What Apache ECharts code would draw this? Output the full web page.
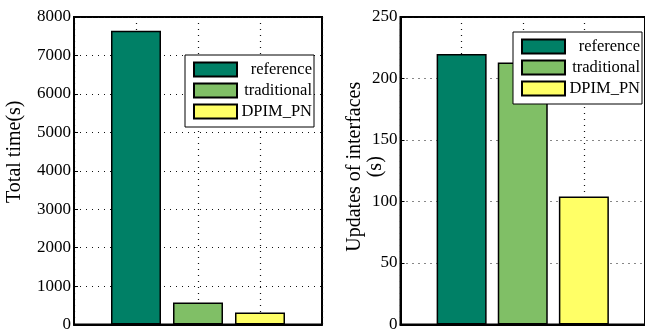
<!DOCTYPE html>
<html>
<head>
<meta charset="utf-8">
<script src="https://cdn.jsdelivr.net/npm/echarts@6/dist/echarts.min.js"></script>
<style>
html,body{margin:0;padding:0;background:#fff;}
#chart{width:645px;height:333px;}
</style>
</head>
<body>
<div id="chart"></div>
<script>
// ---- data ----
const categories = ['reference', 'traditional', 'DPIM_PN'];
const categoryPositions = [1, 2, 3];
const totalTime = [7640, 575, 315];
const updatesOfInterfaces = [220, 213, 104];
const timeTicks = [0, 1000, 2000, 3000, 4000, 5000, 6000, 7000, 8000];
const updateTicks = [0, 50, 100, 150, 200, 250];
const colors = ['#008066', '#80BF66', '#FFFF66'];

const FONT = "'Liberation Serif', 'Times New Roman', serif";
const dotted = { color: '#111', width: 1.2, type: [1, 5] };

function xAxisDef(gridIndex) {
  return {
    type: 'value', gridIndex: gridIndex, min: 0, max: 4, interval: 1,
    axisLine: { show: true, lineStyle: { color: '#000', width: 2 } },
    axisTick: { show: false },
    axisLabel: { show: false },
    splitLine: { show: true, lineStyle: dotted }
  };
}
function yAxisDef(gridIndex, ticks, name, nameGap, pad) {
  return {
    type: 'value', gridIndex: gridIndex,
    min: ticks[0], max: ticks[ticks.length - 1], interval: ticks[1] - ticks[0],
    name: name, nameLocation: 'middle', nameRotate: 90, nameGap: nameGap,
    nameMoveOverlap: false,
    nameTextStyle: { fontFamily: FONT, fontSize: 20, color: '#000', lineHeight: 21, padding: pad },
    axisLine: { show: true, lineStyle: { color: '#000', width: 2 } },
    axisTick: { show: true, inside: true, length: 4, lineStyle: { color: '#000', width: 1 } },
    axisLabel: { show: true, margin: 3, fontFamily: FONT, fontSize: 17, color: '#000',
      formatter: function (v) { return String(v); } },
    splitLine: { show: true, lineStyle: dotted }
  };
}
function legendDef(left, top) {
  return {
    show: true, orient: 'vertical', left: left, top: top,
    data: categories,
    icon: 'rect', itemWidth: 43, itemHeight: 14, itemGap: 4,
    padding: [6, 2, 7, 8],
    backgroundColor: '#fff', borderColor: '#000', borderWidth: 1, borderRadius: 0,
    formatter: '{t|{name}}',
    textStyle: {
      fontFamily: FONT, fontSize: 16.5, color: '#000',
      rich: { t: { width: 70, align: 'right', fontFamily: FONT, fontSize: 16.5, color: '#000' } }
    },
    selectedMode: false
  };
}

const series = [];
[totalTime, updatesOfInterfaces].forEach(function (vals, g) {
  categories.forEach(function (c, i) {
    series.push({
      type: 'bar', name: c, xAxisIndex: g, yAxisIndex: g,
      data: [[categoryPositions[i], vals[i]]],
      barWidth: 50, barGap: '-100%',
      itemStyle: { color: colors[i], borderColor: '#000', borderWidth: 1.5 },
      emphasis: { disabled: true }
    });
  });
});

const chart = echarts.init(document.getElementById('chart'), null, { renderer: 'canvas' });
chart.setOption({
  animation: false,
  backgroundColor: '#fff',
  grid: [
    { left: 74, top: 17, width: 248, height: 308.5, show: true, borderColor: '#000', borderWidth: 2, backgroundColor: 'transparent' },
    { left: 400.5, top: 17, width: 248, height: 308.5, show: true, borderColor: '#000', borderWidth: 2, backgroundColor: 'transparent' }
  ],
  xAxis: [xAxisDef(0), xAxisDef(1)],
  yAxis: [
    yAxisDef(0, timeTicks, 'Total time(s)', 49, [0, 0, 0, 38]),
    yAxisDef(1, updateTicks, 'Updates of interfaces\n(s)', 14, [0, 0, 0, 8])
  ],
  legend: [legendDef(185, 55), legendDef(513, 32)],
  tooltip: { show: false },
  series: series
});
</script>
</body>
</html>
